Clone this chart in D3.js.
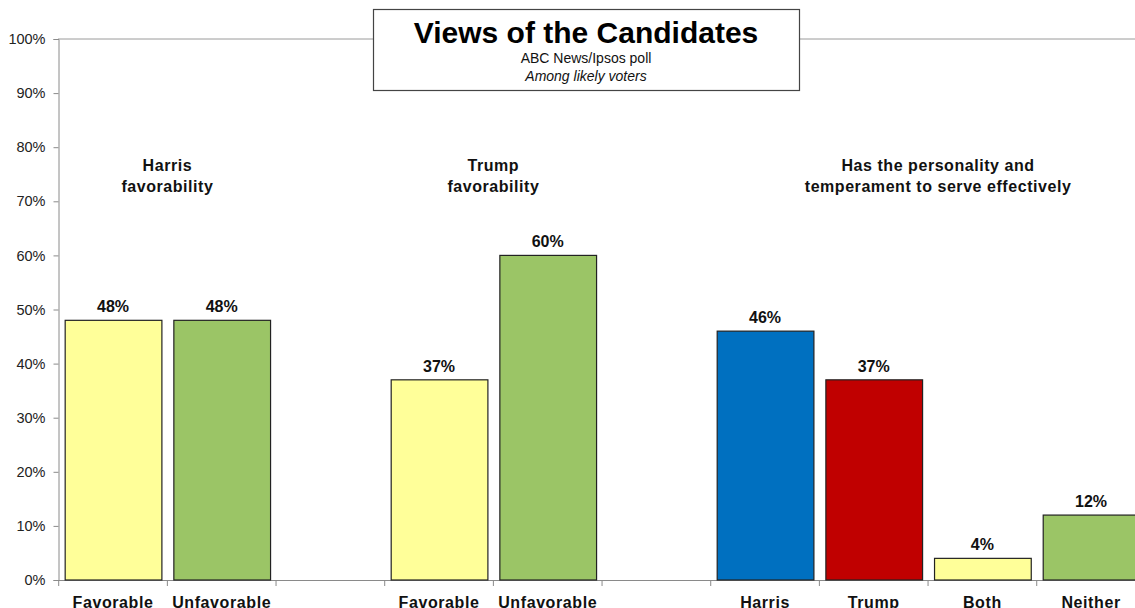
<!DOCTYPE html>
<html><head><meta charset="utf-8">
<script src="https://cdn.jsdelivr.net/npm/d3@7"></script>
<style>
html,body{margin:0;padding:0;background:#fff;overflow:hidden}
text{font-family:"Liberation Sans",Arial,sans-serif}
</style></head>
<body><svg id="c" width="1135" height="608"></svg>
<script>
const categories = ["Favorable","Unfavorable","","Favorable ","Unfavorable ","  ","Harris","Trump","Both","Neither"];
const values = [48,48,null,37,60,null,46,37,4,12];
const colors = ["#FFFF99","#9BC566",null,"#FFFF99","#9BC566",null,"#0070C0","#C00000","#FFFF99","#9BC566"];
const yTicks = [0,10,20,30,40,50,60,70,80,90,100];
const groupLabels = [
  {lines:["Harris","favorability"], from:0, to:1, dx:0},
  {lines:["Trump","favorability"], from:3, to:4, dx:0},
  {lines:["Has the personality and","temperament to serve effectively"], from:6, to:9, dx:10}
];
const title = "Views of the Candidates";
const sub1 = "ABC News/Ipsos poll";
const sub2 = "Among likely voters";

const svg = d3.select("#c");
const x0 = 58.7, step = 108.67;
const x = d3.scaleBand().domain(categories).range([x0, x0 + step*categories.length]).paddingInner(0.11).paddingOuter(0.055);
const y = d3.scaleLinear().domain([0,100]).range([580,39]);

// top gridline
svg.append("line").attr("x1",58).attr("x2",1135).attr("y1",y(100)).attr("y2",y(100)).attr("stroke","#9a9a9a").attr("stroke-width",1);

// y axis
const ya = svg.append("g").attr("transform","translate(58.5,0)").call(d3.axisLeft(y).tickValues(yTicks).tickFormat(d=>d+"%").tickSize(5).tickPadding(8));
ya.select(".domain").attr("stroke","#8a8a8a");
ya.selectAll(".tick line").attr("stroke","#8a8a8a");
ya.selectAll("text").attr("font-size",14.5).attr("fill","#222").style("font-family","Liberation Sans, Arial, sans-serif");

// x axis baseline & ticks at boundaries
svg.append("line").attr("x1",58).attr("x2",1135).attr("y1",580.5).attr("y2",580.5).attr("stroke","#8a8a8a");
categories.forEach((c,i)=>{
  const bx = x0 + step*i;
  svg.append("line").attr("x1",bx).attr("x2",bx).attr("y1",580).attr("y2",586).attr("stroke","#8a8a8a");
});

// bars
const data = categories.map((c,i)=>({c, v:values[i], col:colors[i]})).filter(d=>d.v!=null);
svg.selectAll("rect.bar").data(data).enter().append("rect").attr("class","bar")
  .attr("x",d=>x(d.c)+0.5).attr("width",x.bandwidth())
  .attr("y",d=>y(d.v)).attr("height",d=>y(0)-y(d.v))
  .attr("fill",d=>d.col).attr("stroke","#222").attr("stroke-width",1.2);

svg.selectAll("text.val").data(data).enter().append("text").attr("class","val")
  .attr("x",d=>x(d.c)+x.bandwidth()/2).attr("y",d=>y(d.v)-8)
  .attr("text-anchor","middle").attr("font-size",16).attr("font-weight","bold").attr("fill","#111")
  .text(d=>d.v+"%");

// category labels
svg.selectAll("text.cat").data(data).enter().append("text").attr("class","cat")
  .attr("x",d=>x(d.c)+x.bandwidth()/2).attr("y",607.5)
  .attr("text-anchor","middle").attr("font-size",16).attr("letter-spacing",0.6).attr("font-weight","bold").attr("fill","#111")
  .text(d=>d.c.trim());

// group labels
groupLabels.forEach(g=>{
  const cx = (x(categories[g.from]) + x(categories[g.to]) + x.bandwidth())/2 + g.dx;
  g.lines.forEach((l,j)=>{
    svg.append("text").attr("x",cx).attr("y",171+j*21).attr("text-anchor","middle")
      .attr("font-size",16).attr("letter-spacing",0.55).attr("font-weight","bold").attr("fill","#111").text(l);
  });
});

// title box
svg.append("rect").attr("x",373.5).attr("y",9.5).attr("width",426).attr("height",81).attr("fill","#fff").attr("stroke","#444").attr("stroke-width",1.2);
svg.append("text").attr("x",586).attr("y",43).attr("text-anchor","middle").attr("font-size",30).attr("font-weight","bold").attr("fill","#000").text(title);
svg.append("text").attr("x",586).attr("y",63).attr("text-anchor","middle").attr("font-size",14).attr("fill","#111").text(sub1);
svg.append("text").attr("x",586).attr("y",81).attr("text-anchor","middle").attr("font-size",14).attr("font-style","italic").attr("fill","#111").text(sub2);
</script></body></html>
